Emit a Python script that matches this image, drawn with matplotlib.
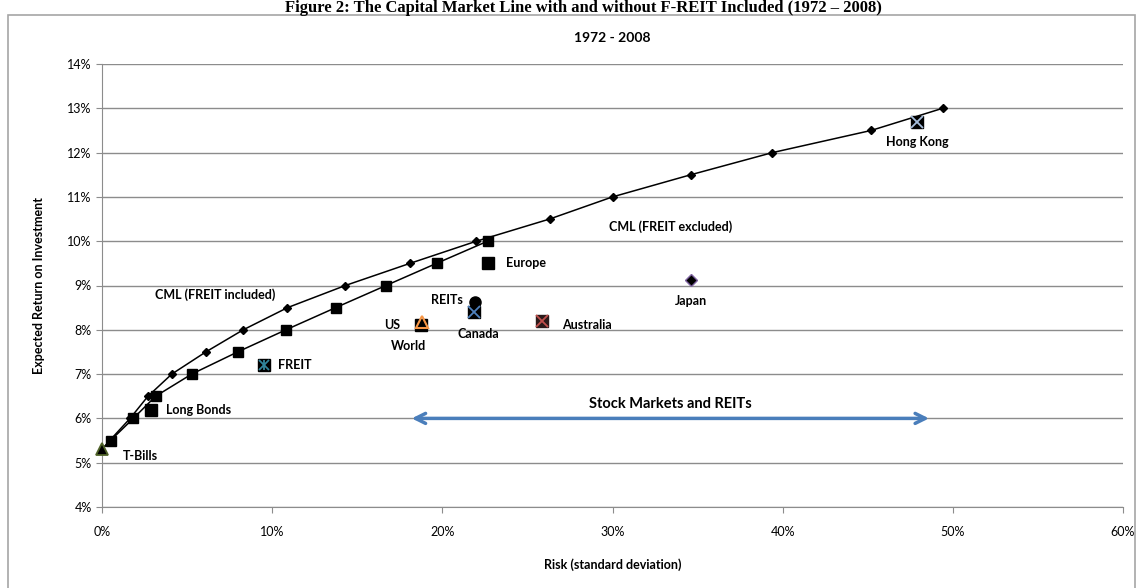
import matplotlib.pyplot as plt
from matplotlib.patches import Rectangle
from matplotlib.ticker import FuncFormatter

# CML with FREIT (diamonds) - risk %, return %
cml_inc_x = [0.0, 0.45, 1.65, 2.7, 4.1, 6.1, 8.3, 10.9, 14.3, 18.1, 22.0, 26.3, 30.0, 34.6, 39.4, 45.2, 49.4]
cml_inc_y = [5.3, 5.5, 6.0, 6.5, 7.0, 7.5, 8.0, 8.5, 9.0, 9.5, 10.0, 10.5, 11.0, 11.5, 12.0, 12.5, 13.0]

# CML without FREIT (squares)
cml_exc_x = [0.0, 0.5, 1.84, 3.15, 5.27, 7.97, 10.81, 13.73, 16.69, 19.66, 22.66]
cml_exc_y = [5.3, 5.5, 6.0, 6.5, 7.0, 7.5, 8.0, 8.5, 9.0, 9.5, 10.0]

# individual assets
assets = ["T-Bills", "Long Bonds", "FREIT", "US", "World", "REITs", "Canada",
          "Australia", "Europe", "Japan", "Hong Kong"]
asset_x = [0.0, 2.88, 9.54, 18.78, 18.74, 21.9, 21.86, 25.87, 22.7, 34.6, 47.9]
asset_y = [5.3, 6.2, 7.2, 8.18, 8.10, 8.62, 8.41, 8.2, 9.5, 9.12, 12.7]

arrow_x = [18.2, 48.6]
arrow_y = 6.0

fig = plt.figure(figsize=(11.41, 5.88), dpi=100)
ax = fig.add_axes([102/1141, 1-507/588, (1123-102)/1141, (507-64)/588])
font = "Lato"

ax.set_xlim(0, 60)
ax.set_ylim(4, 14)
ax.set_xticks(range(0, 61, 10))
ax.set_yticks(range(4, 15))
ax.xaxis.set_major_formatter(FuncFormatter(lambda v, p: "%d%%" % v))
ax.yaxis.set_major_formatter(FuncFormatter(lambda v, p: "%d%%" % v))
ax.grid(axis="y", color="#8c8c8c", lw=1)
ax.set_axisbelow(True)
for s in ["top", "right"]:
    ax.spines[s].set_visible(False)
for s in ["left", "bottom"]:
    ax.spines[s].set_color("#8c8c8c")
ax.tick_params(colors="#8c8c8c", length=4, labelcolor="black", labelsize=9)
ax.tick_params(axis="x", pad=10)
for lab in ax.get_xticklabels() + ax.get_yticklabels():
    lab.set_fontfamily(font)

# curves (first point is T-Bills, drawn below with its own marker)
ax.plot(cml_inc_x, cml_inc_y, color="black", lw=1.1, marker="D", ms=4.5, markevery=slice(1, None), zorder=3)
ax.plot(cml_exc_x, cml_exc_y, color="black", lw=1.1, marker="s", ms=6.5, markevery=slice(1, None), zorder=3)

# asset markers
ax.plot(asset_x[0], asset_y[0], marker="^", ms=9, mfc="black", mec="#4f6228", mew=1.3, ls="none", zorder=6, clip_on=False)
ax.plot(asset_x[1], asset_y[1], marker="s", ms=8, color="black", ls="none", zorder=4)
ax.plot(asset_x[2], asset_y[2], marker="s", ms=8, color="black", ls="none", zorder=4)
ax.plot(asset_x[2], asset_y[2], marker="x", ms=7, color="#31859c", mew=1.3, ls="none", zorder=5)
ax.plot(asset_x[2], asset_y[2], marker="|", ms=7, color="#31859c", mew=1.3, ls="none", zorder=5)
ax.plot(asset_x[4], asset_y[4], marker="s", ms=8, color="black", ls="none", zorder=4)
ax.plot(asset_x[3], asset_y[3], marker="^", ms=9, mfc="none", mec="#f79646", mew=1.5, ls="none", zorder=5)
ax.plot(asset_x[5], asset_y[5], marker="o", ms=8, color="black", ls="none", zorder=4)
ax.plot(asset_x[6], asset_y[6], marker="s", ms=8, color="black", ls="none", zorder=4)
ax.plot(asset_x[6], asset_y[6], marker="x", ms=8, color="#4f81bd", mew=1.3, ls="none", zorder=5)
ax.plot(asset_x[7], asset_y[7], marker="s", ms=8, color="#2b1a1a", ls="none", zorder=4)
ax.plot(asset_x[7], asset_y[7], marker="x", ms=8, color="#c0504d", mew=1.3, ls="none", zorder=5)
ax.plot(asset_x[8], asset_y[8], marker="s", ms=8, color="black", ls="none", zorder=4)
ax.plot(asset_x[9], asset_y[9], marker="D", ms=6, mfc="black", mec="#8064a2", mew=1, ls="none", zorder=4)
ax.plot(asset_x[10], asset_y[10], marker="s", ms=8, color="black", ls="none", zorder=4)
ax.plot(asset_x[10], asset_y[10], marker="x", ms=8, color="#a6bddb", mew=1.3, ls="none", zorder=5)

# asset labels: offsets in points
offsets = {"T-Bills": (15, -5, "left"), "Long Bonds": (11, 0, "left"), "FREIT": (10, 0, "left"),
           "US": (-21, -2, "center"), "World": (-9, -15, "center"), "REITs": (-20, 2, "center"),
           "Canada": (3, -16, "center"), "Australia": (14, -3, "left"), "Europe": (13, 0, "left"),
           "Japan": (0, -15, "center"), "Hong Kong": (0, -15, "center")}
for name, x, y in zip(assets, asset_x, asset_y):
    dx, dy, ha = offsets[name]
    ax.annotate(name, (x, y), xytext=(dx, dy), textcoords="offset points", ha=ha, va="center",
                fontsize=9, fontweight="bold", family=font)

ax.text(6.64, 8.79, "CML (FREIT included)", ha="center", va="center", fontsize=9, fontweight="bold", family=font)
ax.text(33.4, 10.32, "CML (FREIT excluded)", ha="center", va="center", fontsize=9, fontweight="bold", family=font)

ax.annotate("", xy=(arrow_x[1], arrow_y), xytext=(arrow_x[0], arrow_y),
            arrowprops=dict(arrowstyle="<->", color="#4a7ebb", lw=2.5, mutation_scale=18, shrinkA=0, shrinkB=0))
ax.text(sum(arrow_x)/2, arrow_y + 0.33, "Stock Markets and REITs", ha="center", va="center",
        fontsize=10.5, fontweight="bold", family=font)

ax.set_xlabel("Risk (standard deviation)", fontsize=9, fontweight="bold", family=font, labelpad=14)
ax.set_ylabel("Expected Return on Investment", fontsize=9, fontweight="bold", family=font, labelpad=16)
ax.set_title("1972 - 2008", fontsize=10, fontweight="bold", family=font, pad=16)

# chart frame and figure caption
fig.patches.append(Rectangle((8/1141, -0.01), (1135-8)/1141, 1.01-15/588, transform=fig.transFigure,
                             fill=False, ec="#a6a6a6", lw=1.2))
fig.text(583/1141, 1-12/588, "Figure 2: The Capital Market Line with and without F-REIT Included (1972 \u2013 2008)",
         ha="center", va="baseline", fontsize=12, fontweight="bold", family="Liberation Serif")

fig.savefig("out.png", dpi=100)
